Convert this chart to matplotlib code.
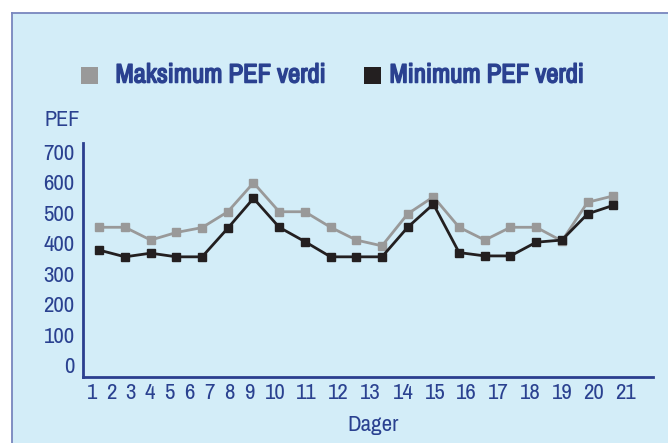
import matplotlib
matplotlib.use("Agg")
import matplotlib.pyplot as plt
from matplotlib.patches import Rectangle
from matplotlib.lines import Line2D
from matplotlib import font_manager as fm
import matplotlib.patheffects as pe

# ---- data ----
days = list(range(1, 22))
day_labels = [str(d) for d in days]
max_pef = [452, 452, 410, 435, 451, 503, 598, 503, 503, 452, 410, 391,
           496, 552, 452, 410, 452, 452, 407, 534, 555]
min_pef = [377, 355, 367, 355, 355, 449, 547, 452, 405, 355, 355, 355,
           452, 528, 369, 358, 358, 403, 410, 496, 524]
y_ticks = [0, 100, 200, 300, 400, 500, 600, 700]
legend_labels = ["Maksimum PEF verdi", "Minimum PEF verdi"]
y_title = "PEF"
x_title = "Dager"

# ---- font choice: prefer a condensed face ----
def _w(f):
    w = f.weight
    if isinstance(w, str):
        return 700 if "bold" in w.lower() else 400
    return int(w)

narrow = [f for f in fm.fontManager.ttflist
          if "narrow" in f.name.lower() or "condensed" in f.name.lower()]
narrow_reg = [f.name for f in narrow if _w(f) < 600]
if narrow:
    FAM = [(narrow_reg or [narrow[0].name])[0], "DejaVu Sans"]
    SCALE = 1.0
else:
    FAM = ["Roboto", "DejaVu Sans"]
    SCALE = 0.85

# ---- styling ----
W, H = 668, 443
BG = "#D3EDF8"
BORDER = "#7886BE"
TXT = "#2A4190"
SPINE = "#2B3F8F"
GRAY = "#999999"
BLACK = "#231F20"

fig = plt.figure(figsize=(W / 100, H / 100), dpi=100)
fig.patch.set_facecolor("white")

def fx(px):
    return px / W

def fy(py):
    return 1 - py / H

# panel background
fig.add_artist(Rectangle((fx(12), 0), 1 - fx(12), fy(12.5), transform=fig.transFigure,
                         facecolor=BG, edgecolor="none", zorder=0))
fig.add_artist(Line2D([fx(12.5), fx(12.5)], [0, fy(12.5)], transform=fig.transFigure,
                      color=BORDER, lw=1.3))
fig.add_artist(Line2D([fx(12.5), 1], [fy(12.5), fy(12.5)], transform=fig.transFigure,
                      color=BORDER, lw=1.3))

# axes
ax_l, ax_r, ax_t, ax_b = 83, 653, 143, 377
ax = fig.add_axes([fx(ax_l), fy(ax_b), fx(ax_r - ax_l), (ax_b - ax_t) / H])
ax.set_facecolor("none")

ax.plot(days, max_pef, color=GRAY, lw=2.0, marker="s", ms=5.5, mec=GRAY, mfc=GRAY, zorder=3)
ax.plot(days, min_pef, color=BLACK, lw=2.0, marker="s", ms=5.5, mec=BLACK, mfc=BLACK, zorder=4)

px_per_day = 25.7
x0px = 99.3
ax.set_xlim(1 - (x0px - ax_l) / px_per_day, 21 + (ax_r - 613.3) / px_per_day)
ax.set_ylim(-39.4, 728.6)

for s in ["top", "right"]:
    ax.spines[s].set_visible(False)
for s in ["left", "bottom"]:
    ax.spines[s].set_color(SPINE)
    ax.spines[s].set_linewidth(2.0)

# x tick labels are set off from the points, as in the original artwork
label_px = [91.7, 111, 130.7, 150, 169.3, 189.3, 209.3, 229.3, 249.3, 275, 306.7,
            338.3, 370, 403.3, 435, 466.7, 498.3, 530, 562.7, 594, 626]
tick_pos = [1 + (p - x0px) / px_per_day for p in label_px]
ax.set_xticks(tick_pos)
ax.set_xticklabels(day_labels)
ax.set_yticks(y_ticks)
ax.set_yticklabels([str(v) for v in y_ticks])
ax.tick_params(axis="both", length=0, colors=TXT, labelsize=16.5 * SCALE)
ax.tick_params(axis="y", pad=6)
ax.tick_params(axis="x", pad=4)
for lab in ax.get_xticklabels() + ax.get_yticklabels():
    lab.set_family(FAM)

# axis titles
fig.text(fx(44), fy(120), y_title, family=FAM, fontsize=16 * SCALE,
         color=TXT, ha="left", va="center")
fig.text(fx(373), fy(425), x_title, family=FAM, fontsize=16.5 * SCALE,
         color=TXT, ha="center", va="center")

# legend
fig.add_artist(Rectangle((fx(81), fy(83.5)), fx(17), 17 / H, transform=fig.transFigure,
                         facecolor=GRAY, edgecolor="none"))
fig.add_artist(Rectangle((fx(364), fy(83.5)), fx(17), 17 / H, transform=fig.transFigure,
                         facecolor=BLACK, edgecolor="none"))
bold_fx = [pe.withStroke(linewidth=1.1, foreground=TXT)]
fig.text(fx(115.5), fy(75), legend_labels[0], family=FAM, fontsize=19.2 * SCALE,
         fontweight="bold", color=TXT, ha="left", va="center", path_effects=bold_fx)
fig.text(fx(389.5), fy(75), legend_labels[1], family=FAM, fontsize=19.2 * SCALE,
         fontweight="bold", color=TXT, ha="left", va="center", path_effects=bold_fx)

fig.savefig("out.png", dpi=100, facecolor=fig.get_facecolor())
